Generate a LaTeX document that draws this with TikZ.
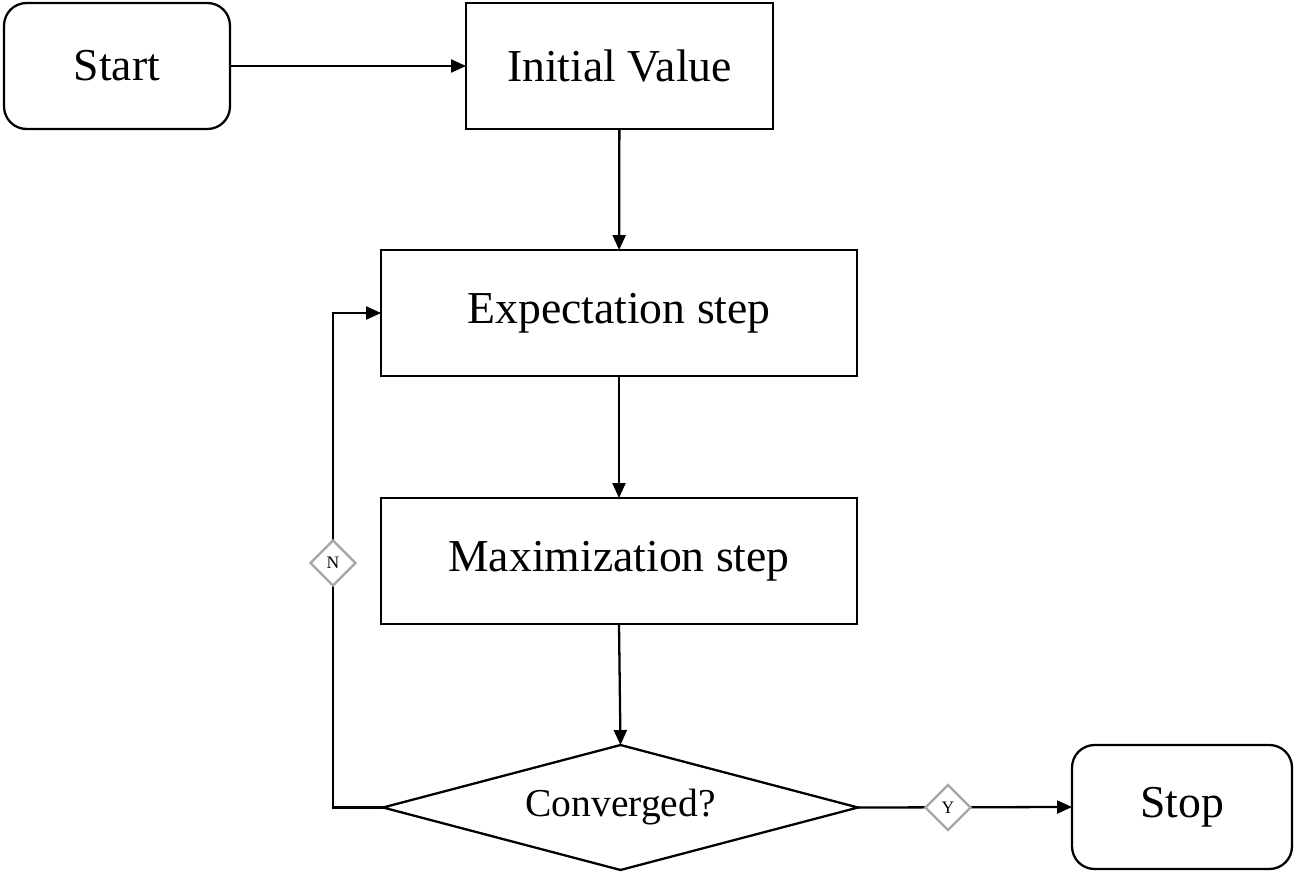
\documentclass[tikz,border=0pt]{standalone}
\usepackage{fontspec}
\setmainfont{Liberation Serif}
\usetikzlibrary{shapes.geometric,arrows.meta}
\begin{document}
\begin{tikzpicture}[x=0.02cm,y=-0.02cm,
  every node/.style={inner sep=0pt,outer sep=0pt},
  boxstyle/.style={draw=black,line width=1.3pt,rectangle,minimum width=6.14cm,minimum height=2.52cm,font=\fontsize{26}{30}\selectfont},
  termstyle/.style={draw=black,line width=1.3pt,rectangle,rounded corners=0.45cm,font=\fontsize{26}{30}\selectfont},
  decstyle/.style={draw=black,line width=1.3pt,diamond,aspect=3.8,minimum width=9.5cm,minimum height=2.5cm,font=\fontsize{22.5}{26}\selectfont},
  markstyle/.style={draw=black!35,line width=1.3pt,fill=white,diamond,minimum width=0.9cm,minimum height=0.9cm,font=\fontsize{10}{12}\selectfont},
  arrowstyle/.style={line width=1.3pt,-{Triangle[length=0.3cm,width=0.26cm]}},
  linestyle/.style={line width=1.3pt}]
\useasboundingbox (0,0) rectangle (1295,872);
\node[termstyle,minimum width=4.52cm,minimum height=2.52cm] (start) at (117,66) {Start};
\node[boxstyle] (init) at (619.5,66) {Initial Value};
\node[boxstyle,minimum width=9.52cm] (exp) at (619,313) {Expectation step};
\node[boxstyle,minimum width=9.52cm] (max) at (619,561) {Maximization step};
\node[decstyle] (conv) at (620.5,807.5) {\raisebox{-3pt}{Converged?}};
\node[termstyle,minimum width=4.4cm,minimum height=2.48cm] (stop) at (1182,807) {Stop};
\coordinate (c1) at (333,807.5);
\coordinate (c2) at (333,313);
\draw[arrowstyle] (start) -- (init);
\draw[arrowstyle] (init) -- (exp);
\draw[arrowstyle] (exp) -- (max);
\draw[arrowstyle] (max.south) -- (conv.north);
\draw[arrowstyle] (conv.west) -- (c1) -- (c2) -- (exp.west);
\draw[arrowstyle] (conv.east) -- (stop.west);
\node[markstyle] (n) at (333,563) {N};
\node[markstyle] (y) at (948,807.5) {Y};
\end{tikzpicture}
\end{document}
